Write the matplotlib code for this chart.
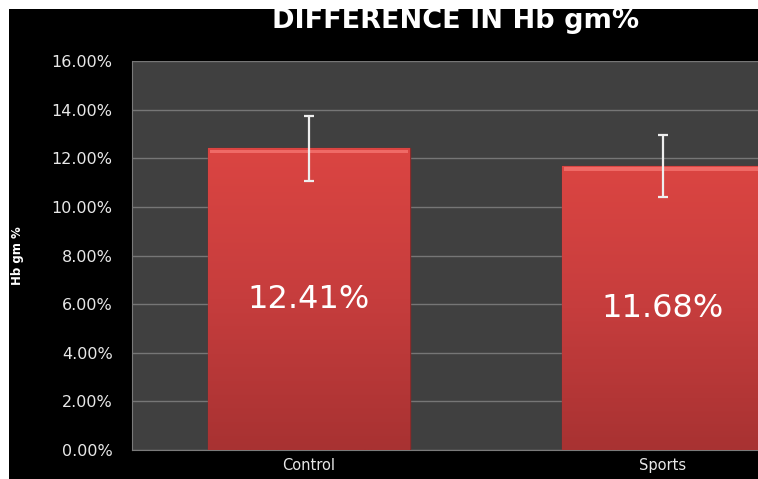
import matplotlib
matplotlib.use("Agg")
import matplotlib.pyplot as plt
import numpy as np
from matplotlib.patches import Rectangle
from matplotlib.colors import LinearSegmentedColormap

groups = ['Control', 'Sports']
values = [12.41, 11.68]
errors = [1.33, 1.29]
yticks = [0, 2, 4, 6, 8, 10, 12, 14, 16]

W, H = 758, 479
fig = plt.figure(figsize=(W / 100, H / 100), dpi=100)
fig.patch.set_facecolor('white')
# black chart area, the picture is offset by a thin white margin
fig.patches.append(Rectangle((9 / W, 0), 1, 1 - 9 / H, transform=fig.transFigure,
                             facecolor='black', edgecolor='none', zorder=-10))

# plot area runs past the right edge of the image
ax = fig.add_axes([132 / W, 1 - 450 / H, 708 / W, 389 / H])
ax.set_facecolor('#404040')

x = np.arange(len(groups))
bars = ax.bar(x, values, width=0.57, color='#d04040', edgecolor='#8c2a2a',
              linewidth=1, zorder=3)

cmap = LinearSegmentedColormap.from_list('bar', ['#a83232', '#c63d3d', '#db4542'])
for b in bars:
    x0, y0, bw, bh = b.get_x(), b.get_y(), b.get_width(), b.get_height()
    grad = np.linspace(0, 1, 256).reshape(-1, 1)
    im = ax.imshow(grad, cmap=cmap, origin='lower', aspect='auto',
                   extent=[x0, x0 + bw, y0, y0 + bh], zorder=3.5)
    im.set_clip_path(b)
    # light bevel at top
    ax.add_patch(Rectangle((x0 + 0.004, y0 + bh - 0.2), bw - 0.008, 0.14,
                           facecolor='#ef6a66', edgecolor='none', zorder=3.6))

ax.errorbar(x, values, yerr=errors, fmt='none', ecolor='#eeeeee',
            elinewidth=1.6, capsize=3.5, capthick=1.6, zorder=5)

for xi, v in zip(x, values):
    ax.text(xi, v / 2, f'{v:.2f}%', ha='center', va='center', color='white',
            fontsize=23, zorder=6)

ax.set_xlim(-0.5, 1.5)
ax.set_ylim(0, 16)
ax.set_yticks(yticks)
ax.set_yticklabels([f'{t:.2f}%' for t in yticks])
ax.set_xticks(x)
ax.set_xticklabels(groups)
ax.tick_params(axis='both', length=0, colors='#e8e8e8', labelsize=11.5)
ax.tick_params(axis='y', pad=14)
ax.tick_params(axis='x', pad=6, labelsize=10.5)
ax.yaxis.grid(True, color='#767676', linewidth=1, zorder=1)
ax.set_axisbelow(True)
for side in ['top', 'right']:
    ax.spines[side].set_visible(False)
ax.spines['left'].set_color('#7a7a7a')
ax.spines['bottom'].set_color('#7a7a7a')

fig.text(18 / W, 1 - 256 / H, 'Hb gm %', rotation=90, ha='center', va='center',
         color='white', fontsize=8.5, fontweight='bold')
fig.text(456 / W, 1 - 21 / H, 'DIFFERENCE IN Hb gm%', ha='center', va='center',
         color='white', fontsize=19.5, fontweight='bold')

fig.savefig('out.png', dpi=100, facecolor=fig.get_facecolor())
